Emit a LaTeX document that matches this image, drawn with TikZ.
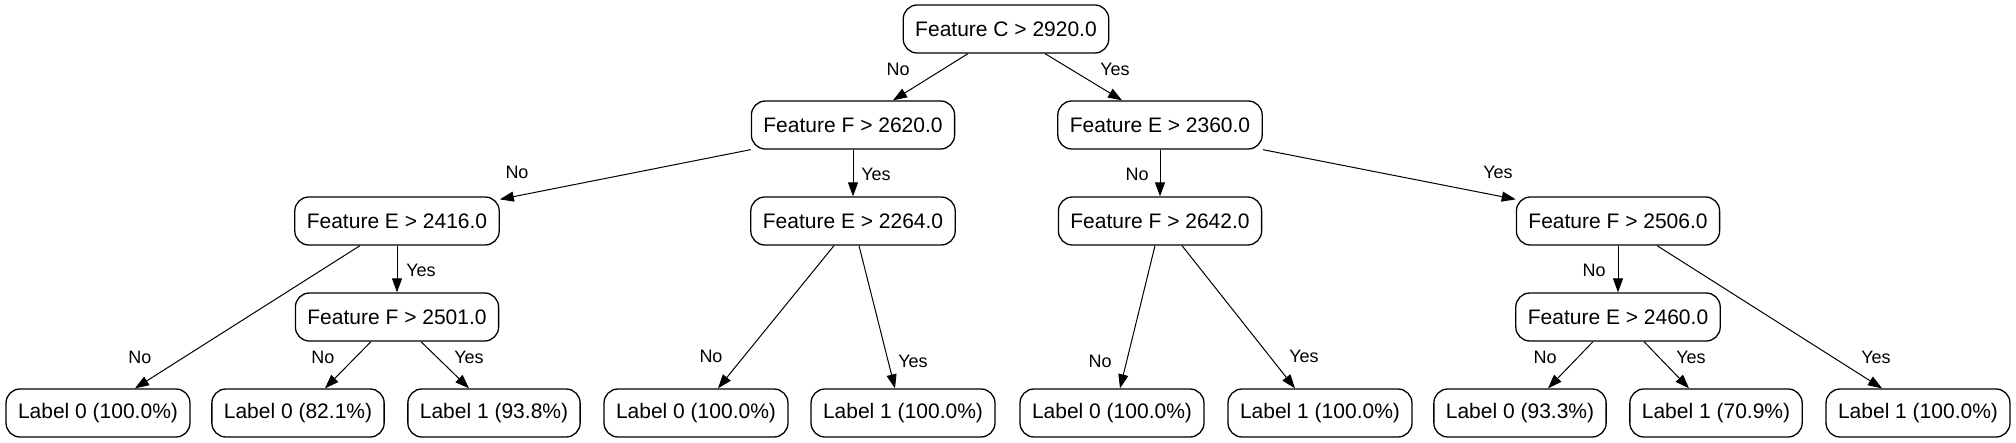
\documentclass[tikz,border=0pt]{standalone}
\usepackage{fontspec}
\setmainfont{Liberation Sans}
\usetikzlibrary{arrows.meta}

\begin{document}
\begin{tikzpicture}[x=1pt,y=-1pt]
    \tikzstyle{test}=[draw,rounded corners=14pt,line width=1.3pt,
        minimum height=48pt,inner xsep=12pt,font=\fontsize{21}{25}\selectfont]
    \tikzstyle{edge}=[line width=1pt,-{Triangle[length=14pt,width=10pt]}]
    \tikzstyle{ans}=[inner sep=0pt,font=\fontsize{18}{21}\selectfont]
    \useasboundingbox (0,0) rectangle (2016,443);
    % Tests
    \node[test] (c2920) at (1006,29) {Feature C > 2920.0};
    \node[test] (f2620) at (853,125) {Feature F > 2620.0};
    \node[test] (e2360) at (1160,125) {Feature E > 2360.0};
    \node[test] (e2416) at (397,221) {Feature E > 2416.0};
    \node[test] (e2264) at (853,221) {Feature E > 2264.0};
    \node[test] (f2642) at (1160,221) {Feature F > 2642.0};
    \node[test] (f2506) at (1618,221) {Feature F > 2506.0};
    \node[test] (f2501) at (397,317) {Feature F > 2501.0};
    \node[test] (e2460) at (1618,317) {Feature E > 2460.0};
    % Leaves
    \node[test] (l1) at (98,413) {Label 0 (100.0\%)};
    \node[test] (l2) at (298,413) {Label 0 (82.1\%)};
    \node[test] (l3) at (494,413) {Label 1 (93.8\%)};
    \node[test] (l4) at (696,413) {Label 0 (100.0\%)};
    \node[test] (l5) at (903,413) {Label 1 (100.0\%)};
    \node[test] (l6) at (1112,413) {Label 0 (100.0\%)};
    \node[test] (l7) at (1320,413) {Label 1 (100.0\%)};
    \node[test] (l8) at (1520,413) {Label 0 (93.3\%)};
    \node[test] (l9) at (1716,413) {Label 1 (70.9\%)};
    \node[test] (l10) at (1918,413) {Label 1 (100.0\%)};
    % Edges
    \draw[edge] ([xshift=-38pt]c2920.south) -- ([xshift=40pt]f2620.north);
    \draw[edge] ([xshift=39pt]c2920.south) -- ([xshift=-38pt]e2360.north);
    \draw[edge] (f2620.south west) -- ([yshift=-3pt]e2416.north east);
    \draw[edge] (f2620.south) -- (e2264.north);
    \draw[edge] (e2360.south) -- (f2642.north);
    \draw[edge] (e2360.south east) -- ([yshift=-3pt]f2506.north west);
    \draw[edge] ([xshift=-37pt]e2416.south) -- ([xshift=37pt]l1.north);
    \draw[edge] (e2416.south) -- (f2501.north);
    \draw[edge] ([xshift=-26pt]f2501.south) -- ([xshift=27pt]l2.north);
    \draw[edge] ([xshift=24pt]f2501.south) -- ([xshift=-25pt]l3.north);
    \draw[edge] ([xshift=-19pt]e2264.south) -- ([xshift=22pt]l4.north);
    \draw[edge] ([xshift=6pt]e2264.south) -- ([xshift=-8pt]l5.north);
    \draw[edge] ([xshift=-5pt]f2642.south) -- ([xshift=8pt]l6.north);
    \draw[edge] ([xshift=22pt]f2642.south) -- ([xshift=-25pt]l7.north);
    \draw[edge] (f2506.south) -- (e2460.north);
    \draw[edge] ([xshift=39pt]f2506.south) -- ([xshift=-36pt]l10.north);
    \draw[edge] ([xshift=-25pt]e2460.south) -- ([xshift=28pt]l8.north);
    \draw[edge] ([xshift=26pt]e2460.south) -- ([xshift=-27pt]l9.north);
    % Answers
    \node[ans] (a1) at (898,69) {No};
    \node[ans] (a2) at (1115,69) {Yes};
    \node[ans] (a3) at (517,172) {No};
    \node[ans] (a4) at (876,174) {Yes};
    \node[ans] (a5) at (1137,174) {No};
    \node[ans] (a6) at (1498,172) {Yes};
    \node[ans] (a7) at (140,357) {No};
    \node[ans] (a8) at (421,270) {Yes};
    \node[ans] (a9) at (323,357) {No};
    \node[ans] (a10) at (469,357) {Yes};
    \node[ans] (a11) at (711,356) {No};
    \node[ans] (a12) at (913,361) {Yes};
    \node[ans] (a13) at (1100,361) {No};
    \node[ans] (a14) at (1304,356) {Yes};
    \node[ans] (a15) at (1594,270) {No};
    \node[ans] (a16) at (1876,357) {Yes};
    \node[ans] (a17) at (1545,357) {No};
    \node[ans] (a18) at (1691,357) {Yes};
\end{tikzpicture}
\end{document}
